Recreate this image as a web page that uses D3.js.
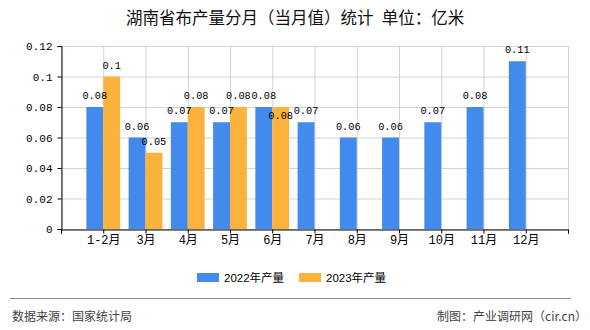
<!DOCTYPE html>
<html><head><meta charset="utf-8">
<script src="https://cdn.jsdelivr.net/npm/d3@7"></script>
<style>body{margin:0;background:#fff}svg{display:block}</style>
</head><body>
<svg id="c" width="590" height="330"></svg>
<script>
const categories = ["1-2月","3月","4月","5月","6月","7月","8月","9月","10月","11月","12月"];
const values2022 = [0.08,0.06,0.07,0.07,0.08,0.07,0.06,0.06,0.07,0.08,0.11];
const values2023 = [0.1,0.05,0.08,0.08,0.08];
const seriesNames = ["2022年产量","2023年产量"];
const yTicks = [0,0.02,0.04,0.06,0.08,0.1,0.12];
const colors = ["#428bec","#fcb33e"];

const svg = d3.select("#c");
const L=61,R=568,T=46,B=229;
const slots = ["_s"].concat(categories).concat(["_e"]);
const x = d3.scalePoint().domain(slots).range([L,R]);
const y = d3.scaleLinear().domain([0,0.12]).range([B,T]);
const bw = x.step()*0.4;
const numFont = "'Liberation Mono','DejaVu Sans Mono',monospace";
const cjk = "'Liberation Mono','Noto Sans CJK SC',sans-serif";

// title
svg.append("text").attr("x",295).attr("y",24).attr("text-anchor","middle")
  .attr("font-family","'Noto Sans CJK SC',sans-serif").attr("font-size",16.5).attr("fill","#111")
  .text("湖南省布产量分月（当月值）统计\u2002单位：亿米");

// grid
const g = svg.append("g");
g.selectAll(".hg").data(yTicks).join("line")
  .attr("x1",L).attr("x2",R).attr("y1",d=>y(d)+0.5).attr("y2",d=>y(d)+0.5)
  .attr("stroke","#d3d3d3");
g.selectAll(".vg").data(slots).join("line")
  .attr("x1",d=>x(d)+0.5).attr("x2",d=>x(d)+0.5).attr("y1",T).attr("y2",B)
  .attr("stroke","#d3d3d3");

// bars
const data = [];
categories.forEach((c,i)=>{
  if(values2022[i]!=null) data.push({c,v:values2022[i],s:0});
  if(values2023[i]!=null) data.push({c,v:values2023[i],s:1});
});
svg.append("g").selectAll("rect").data(data).join("rect")
  .attr("x",d=>d.s===0 ? x(d.c)-bw : x(d.c))
  .attr("y",d=>y(d.v)).attr("width",bw).attr("height",d=>y(0)-y(d.v))
  .attr("fill",d=>colors[d.s]);

// axes
const ax = svg.append("g").attr("transform",`translate(0,${B+0.5})`)
  .call(d3.axisBottom(x).tickSize(4).tickFormat(d=>d.startsWith("_")?"":d));
ax.select(".domain").attr("stroke","#000");
ax.selectAll(".tick line").attr("stroke","#000");
ax.selectAll("text").attr("font-family",cjk).attr("font-size",12).attr("fill","#000").attr("dy","0.95em").attr("y",3);
const ay = svg.append("g").attr("transform",`translate(${L+0.5},0)`)
  .call(d3.axisLeft(y).tickValues(yTicks).tickSize(4).tickPadding(5).tickFormat(d=>String(+d.toFixed(2))));
ay.select(".domain").attr("stroke","#000");
ay.selectAll(".tick line").attr("stroke","#000");
ay.selectAll("text").attr("font-family",numFont).attr("font-size",11).attr("fill","#000");

// value labels with simple collision avoidance
const placed = [];
const order = data.slice().sort((a,b)=>a.s-b.s);
const labels = [];
order.forEach(d=>{
  const cx = d.s===0 ? x(d.c)-bw/2 : x(d.c)+bw/2;
  const txt = String(d.v);
  const w = txt.length*6;
  let by = y(d.v)-8;
  const box = (yy)=>({x0:cx-w/2,x1:cx+w/2,y0:yy-8,y1:yy});
  let b = box(by);
  if(placed.some(p=>p.x0<b.x1-1 && b.x0<p.x1-1 && p.y0<b.y1 && b.y0<p.y1)){
    by = y(d.v)+12; b = box(by);
  }
  placed.push(b);
  labels.push({cx,by,txt});
});
svg.append("g").selectAll("text").data(labels).join("text")
  .attr("x",d=>d.cx).attr("y",d=>d.by).attr("text-anchor","middle")
  .attr("font-family",numFont).attr("font-size",10.3).attr("fill","#000")
  .text(d=>d.txt);

// legend
const lg = svg.append("g");
const lx = [197,299];
seriesNames.forEach((n,i)=>{
  lg.append("rect").attr("x",lx[i]).attr("y",273).attr("width",22).attr("height",9).attr("fill",colors[i]);
  lg.append("text").attr("x",lx[i]+27).attr("y",282).attr("font-family","'Liberation Sans','Noto Sans CJK SC',sans-serif")
    .attr("font-size",11.5).attr("fill","#000").text(n);
});

// footer
svg.append("line").attr("x1",10).attr("x2",571).attr("y1",298.5).attr("y2",298.5).attr("stroke","#888").attr("stroke-width",1);
svg.append("text").attr("x",12).attr("y",321).attr("font-family","'Noto Sans CJK SC',sans-serif").attr("font-size",12).attr("fill","#444").text("数据来源：国家统计局");
svg.append("text").attr("x",587).attr("y",321).attr("text-anchor","end").attr("font-family","'Noto Sans CJK SC',sans-serif").attr("font-size",12).attr("fill","#444").text("制图：产业调研网（cir.cn）");
</script>
</body></html>
